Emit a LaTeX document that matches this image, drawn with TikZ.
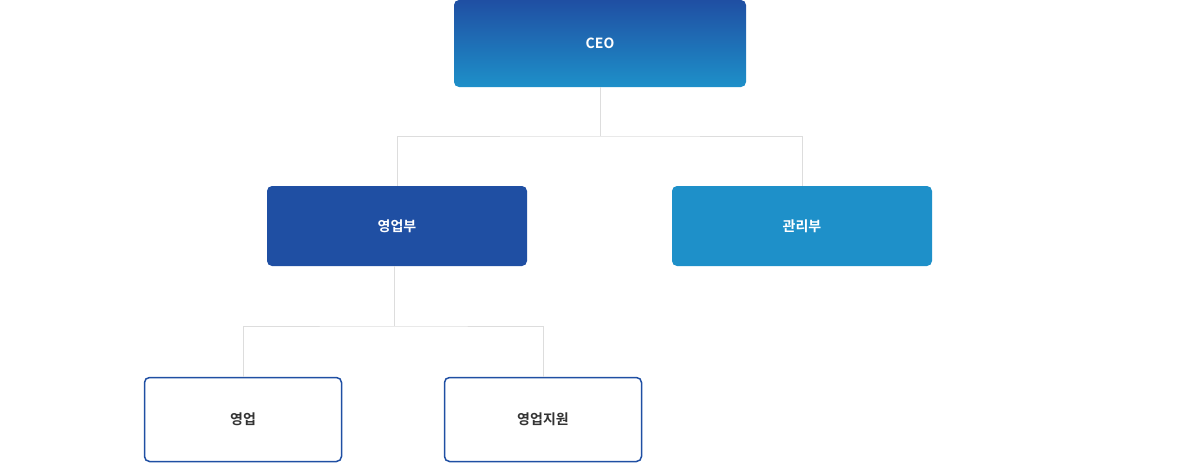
\documentclass[tikz,border=0pt]{standalone}
\usepackage{fontspec}
\setmainfont{Noto Sans CJK KR}[BoldFont={* Bold}]
\begin{document}
\begin{tikzpicture}[x=1pt,y=-1pt,
  box/.style={rounded corners=5pt,font=\bfseries\fontsize{14}{16}\selectfont,inner sep=0pt},
  filled/.style={box,text=white},
  outl/.style={box,draw=c1,line width=1.5pt,fill=white,text=tx},
  ln/.style={draw=lg,line width=0.8pt}]
\definecolor{c1}{HTML}{1F4FA3}
\definecolor{c2}{HTML}{1E90C9}
\definecolor{lg}{HTML}{DDDDDD}
\definecolor{tx}{HTML}{333333}
\useasboundingbox (0,0) rectangle (1200,463);
\node[filled,minimum width=292pt,minimum height=87pt,top color=c1,bottom color=c2] (ceo) at (600,43.5) {CEO};
\node[filled,fill=c1,minimum width=260pt,minimum height=80pt] (sales) at (397,226) {영업부};
\node[filled,fill=c2,minimum width=260pt,minimum height=80pt] (admin) at (802,226) {관리부};
\node[outl,minimum width=197pt,minimum height=84pt] (s1) at (243,419.5) {영업};
\node[outl,minimum width=197pt,minimum height=84pt] (s2) at (543,419.5) {영업지원};
\coordinate (j1) at (600,136);
\coordinate (j2) at (394,326);
\draw[ln] (ceo.south) -- (j1);
\draw[ln] (sales.north) |- (j1) -| (admin.north);
\draw[ln] (sales.south -| j2) -- (j2);
\draw[ln] (s1.north) |- (j2) -| (s2.north);
\end{tikzpicture}
\end{document}
